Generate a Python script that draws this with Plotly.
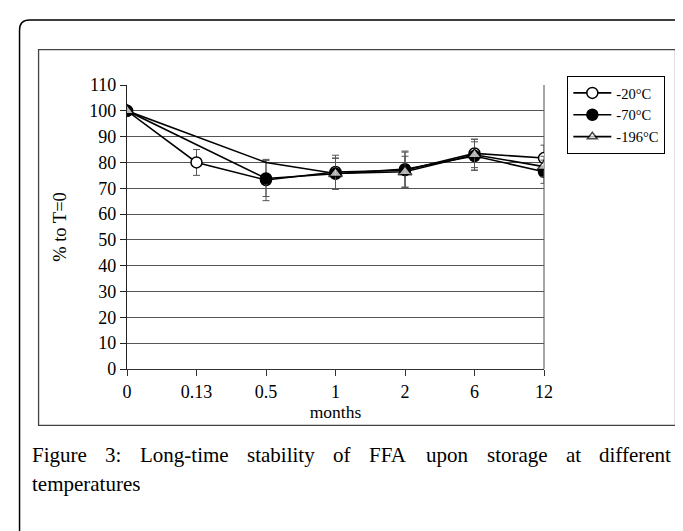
import plotly.graph_objects as go

# ---- data ----
months = ["0", "0.13", "0.5", "1", "2", "6", "12"]
series_names = ["-20°C", "-70°C", "-196°C"]
v_20 = [100, 80, 73.2, 76.3, 77.0, 83.5, 81.7]
e_20 = [0, 5, 8, 6.5, 7, 5.5, 5]
v_70 = [100, None, 73.8, 75.6, 77.4, 82.5, 76.4]
e_70 = [0, None, 7, 6, 7, 5.5, 4.5]
v_196 = [100, None, 80, 75.7, 76.4, 83.0, 78.4]
e_196 = [0, None, 0, 6, 6, 6, 4]
y_ticks = [0, 10, 20, 30, 40, 50, 60, 70, 80, 90, 100, 110]
caption_line1 = ["Figure", "3:", "Long-time", "stability", "of", "FFA", "upon", "storage", "at", "different"]
caption_line2 = "temperatures"

W, H = 683, 531
PX0, PX1 = 119.3, 535.7
PY0, PY1 = 360.7, 77.0


def px(x):
    return (x - PX0) / (PX1 - PX0)


def py(y):
    return (PY0 - y) / (PY0 - PY1)


FONT = "Liberation Serif"
fig = go.Figure()

err_style = dict(type="data", thickness=1, width=3.5, color="#555555")

fig.add_trace(go.Scatter(
    x=months, y=v_20, name=series_names[0], mode="lines+markers",
    connectgaps=True,
    line=dict(color="black", width=1.6),
    marker=dict(symbol="circle", size=11, color="white", line=dict(color="black", width=1.5)),
    error_y=dict(array=e_20, **err_style),
))
fig.add_trace(go.Scatter(
    x=months, y=v_70, name=series_names[1], mode="lines+markers",
    connectgaps=True,
    line=dict(color="black", width=1.6),
    marker=dict(symbol="circle", size=11, color="black", line=dict(color="black", width=1.5)),
    error_y=dict(array=e_70, **err_style),
))
fig.add_trace(go.Scatter(
    x=months, y=v_196, name=series_names[2], mode="lines+markers",
    connectgaps=True,
    line=dict(color="black", width=1.6),
    marker=dict(symbol="triangle-up", size=[12, 0, 0, 12, 12, 12, 12], color="white",
                line=dict(color="black", width=1.5)),
    error_y=dict(array=e_196, **err_style),
))

shapes = []
# outer rounded frame
L, T, R, B, r = 12, 12, 700, 560, 10
path = (f"M {px(L)},{py(B)} L {px(L)},{py(T + r)} Q {px(L)},{py(T)} {px(L + r)},{py(T)} "
        f"L {px(R)},{py(T)}")
shapes.append(dict(type="path", xref="paper", yref="paper", path=path,
                   line=dict(color="black", width=1.5), layer="below"))
# inner chart frame
shapes.append(dict(type="rect", xref="paper", yref="paper", x0=px(31), x1=px(667),
                   y0=py(417), y1=py(41.7), line=dict(color="#444444", width=1.3), layer="below"))
# right border of plot area
shapes.append(dict(type="line", xref="paper", yref="paper", x0=1, x1=1, y0=0, y1=1,
                   line=dict(color="#888888", width=1.5), layer="below"))

annotations = []
cap_y1, cap_y2 = 447, 476
xpos1 = [22, 95.2, 130.0, 237.0, 323.1, 359.0, 415.9, 476.3, 555.4, 589.0]
for w, xx in zip(caption_line1, xpos1):
    annotations.append(dict(text=w, x=px(xx), y=py(cap_y1), xref="paper", yref="paper",
                            xanchor="left", yanchor="middle", showarrow=False,
                            font=dict(family=FONT, size=21, color="black")))
annotations.append(dict(text=caption_line2, x=px(22), y=py(cap_y2), xref="paper", yref="paper",
                        xanchor="left", yanchor="middle", showarrow=False,
                        font=dict(family=FONT, size=21, color="black")))

fig.update_layout(
    width=W, height=H, autosize=False,
    margin=dict(l=PX0, r=W - PX1, t=PY1, b=H - PY0, pad=0),
    paper_bgcolor="white", plot_bgcolor="white",
    font=dict(family=FONT, color="black"),
    showlegend=True,
    legend=dict(x=px(559), y=py(68), xanchor="left", yanchor="top",
                bordercolor="black", borderwidth=1, bgcolor="white",
                font=dict(family=FONT, size=14.5, color="black"),
                tracegroupgap=0, itemwidth=38),
    shapes=shapes,
    annotations=annotations,
    xaxis=dict(type="category", categoryorder="array", categoryarray=months,
               range=[0, 6], showgrid=False, showline=True, linecolor="#333333", linewidth=1.3,
               ticks="outside", ticklen=6, tickcolor="#333333",
               tickfont=dict(family=FONT, size=18, color="black"),
               title=dict(text="months", font=dict(family=FONT, size=17.5, color="black"), standoff=2),
               zeroline=False, automargin=False),
    yaxis=dict(range=[0, 110], tickvals=y_ticks, showgrid=True, gridcolor="#555555", gridwidth=1,
               showline=True, linecolor="#222222", linewidth=1.3,
               ticks="outside", ticklen=6, tickcolor="#222222",
               tickfont=dict(family=FONT, size=18, color="black"),
               title=dict(text="% to T=0", font=dict(family=FONT, size=18.5, color="black"), standoff=17),
               zeroline=False, automargin=False),
)

fig.write_html("out.html")
